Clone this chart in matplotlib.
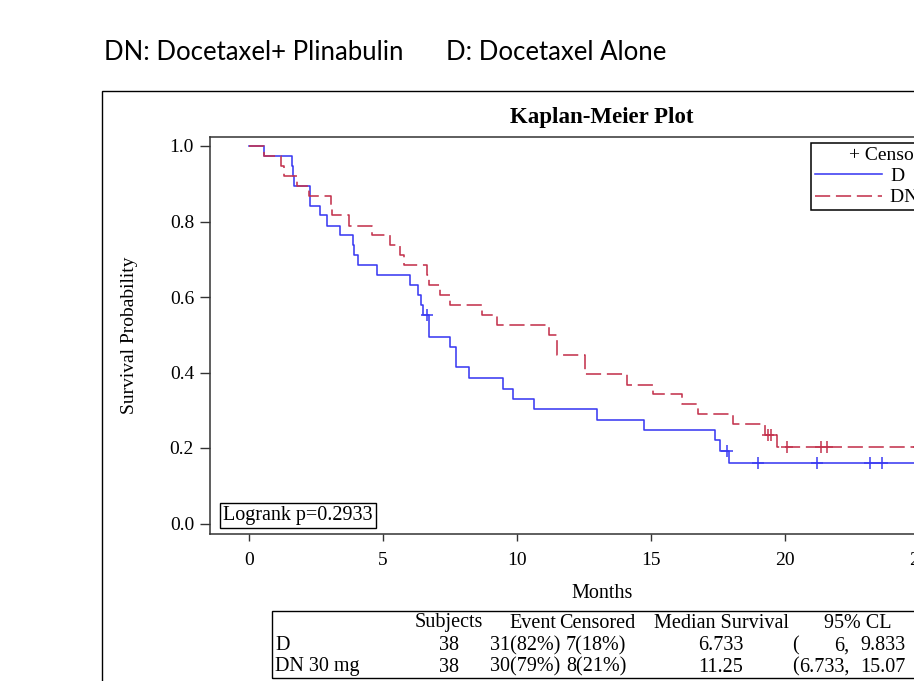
import numpy as np
import matplotlib
matplotlib.use('Agg')
import matplotlib.pyplot as plt
from matplotlib.patches import Rectangle

# readings (months, survival after each drop)
d_event_t = [0.57, 1.59, 1.65, 1.69, 2.26, 2.65, 2.92, 3.40, 3.87, 3.92, 4.05, 4.76,
             6.00, 6.32, 6.41, 6.50, 6.733, 7.50, 7.71, 8.22, 9.49, 9.86, 10.65,
             12.97, 14.75, 17.39, 17.57, 17.92]
d_surv = [0.974, 0.947, 0.921, 0.895, 0.842, 0.816, 0.789, 0.763, 0.737, 0.711, 0.684,
          0.658, 0.632, 0.605, 0.579, 0.553, 0.495, 0.467, 0.414, 0.386, 0.357, 0.330,
          0.302, 0.275, 0.247, 0.220, 0.192, 0.160]
d_cens_t = [6.63, 17.85, 19.0, 21.2, 23.17, 23.63, 26.2]

dn_event_t = [0.57, 1.19, 1.31, 1.78, 2.24, 3.05, 3.10, 3.74, 4.58, 5.26, 5.63, 5.80,
              6.63, 6.70, 7.13, 7.50, 8.68, 9.24, 11.2, 11.48, 12.54, 14.09, 15.09,
              16.17, 16.75, 18.05, 19.25, 19.69]
dn_surv = [0.974, 0.947, 0.921, 0.895, 0.868, 0.842, 0.816, 0.789, 0.763, 0.737, 0.711,
           0.684, 0.658, 0.632, 0.605, 0.579, 0.553, 0.526, 0.500, 0.447, 0.395, 0.368,
           0.342, 0.316, 0.289, 0.263, 0.234, 0.203]
dn_cens_t = [19.38, 19.46, 20.06, 21.33, 21.58, 25.0, 25.9, 26.5]

groups = ['D', 'DN 30 mg']
subjects = [38, 38]
events = ['31(82%)', '30(79%)']
censored = ['7(18%)', '8(21%)']
medians = ['6.733', '11.25']
ci_low = ['6,', '6.733,']
ci_high = ['9.833', '15.07']

x_ticks = [0, 5, 10, 15, 20, 25]
y_ticks = [0.0, 0.2, 0.4, 0.6, 0.8, 1.0]

blue = '#3b3bf2'
red = '#c4334e'
serif = 'Liberation Serif'

W, H = 914, 681
fig = plt.figure(figsize=(W / 100, H / 100), dpi=100)
fig.patch.set_facecolor('white')

def fx(px):
    return px / W

def fy(py):
    return 1 - py / H

ax = fig.add_axes([fx(210), fy(534), fx(994) - fx(210), fy(137) - fy(534)])
ax.set_xlim((210 - 249) / 26.8, (994 - 249) / 26.8)
ax.set_ylim((523.5 - 534) / 377.5, (523.5 - 137) / 377.5)


def km_curve(ev_t, surv, cens_t):
    t = np.concatenate([[0.0], ev_t, [max(cens_t)]])
    s = np.concatenate([[1.0], surv, [surv[-1]]])
    idx = np.searchsorted(t, cens_t, side='right') - 1
    return t, s, s[idx]


t, s, cs = km_curve(d_event_t, d_surv, d_cens_t)
ax.step(t, s, where='post', color=blue, lw=1.15)
ax.plot(d_cens_t, cs, ls='none', marker='+', ms=8, mew=1.1, color=blue)

t, s, cs = km_curve(dn_event_t, dn_surv, dn_cens_t)
ax.step(t, s, where='post', color=red, lw=1.15, dashes=(9.5, 3.6))
ax.plot(dn_cens_t, cs, ls='none', marker='+', ms=8, mew=1.1, color=red)

ax.set_xticks(x_ticks)
ax.set_yticks(y_ticks)
ax.set_yticklabels(['%.1f' % v for v in y_ticks])
for lab in ax.get_xticklabels() + ax.get_yticklabels():
    lab.set_family(serif)
    lab.set_fontsize(14)
ax.tick_params(axis='y', direction='out', length=7.5, width=1, pad=4, colors='#333333', labelcolor='black')
ax.tick_params(axis='x', direction='out', length=5, width=1, pad=8, colors='#333333', labelcolor='black')
for sp in ax.spines.values():
    sp.set_color('#333333')
    sp.set_linewidth(1.1)

ax.set_xlabel('Months', family=serif, fontsize=14.5)
ax.xaxis.set_label_coords(0.5, (534 - 593) / 397)
ax.xaxis.label.set_va('center')
ax.set_ylabel('Survival Probability', family=serif, fontsize=14)
ax.yaxis.set_label_coords((130 - 210) / 784, 0.5)
ax.yaxis.label.set_va('center')
ax.set_title('Kaplan-Meier Plot', family=serif, fontsize=16.5, fontweight='bold',
             y=(534 - 117) / 397, va='center', pad=0)

ax.text((223 - 210) / 784, (534 - 515.5) / 397, 'Logrank p=0.2933', family=serif,
        fontsize=14.5, transform=ax.transAxes, va='center', ha='left',
        bbox=dict(boxstyle='square,pad=0.15', fc='white', ec='black', lw=1))

h1, = ax.plot([], [], color=blue, lw=1.15)
h2, = ax.plot([], [], color=red, lw=1.15, dashes=(9.5, 3.6))
leg = ax.legend([h1, h2], groups, title='+ Censored', loc='upper left',
                bbox_to_anchor=(fx(811), fy(143)), bbox_transform=fig.transFigure,
                borderaxespad=0, fancybox=False, edgecolor='black', framealpha=1,
                prop={'family': serif, 'size': 14}, title_fontproperties={'family': serif, 'size': 14},
                handlelength=3.45, handletextpad=0.45, borderpad=0.18, labelspacing=0.2)
leg.get_frame().set_linewidth(1.1)

# outer frame and header
fig.patches.append(Rectangle((fx(102), -0.1), 2, fy(91) + 0.1, transform=fig.transFigure,
                             fill=False, ec='black', lw=1))
fig.text(fx(104), fy(52), 'DN: Docetaxel+ Plinabulin', family='Lato', fontsize=18.5, va='center')
fig.text(fx(446), fy(52), 'D: Docetaxel Alone', family='Lato', fontsize=18.5, va='center')

# summary table
fig.patches.append(Rectangle((fx(272), fy(678)), 2, fy(611) - fy(678), transform=fig.transFigure,
                             fill=False, ec='black', lw=1))
tk = dict(family=serif, fontsize=14.5, va='center')
fig.text(fx(449), fy(623), 'Subjects', ha='center', **tk)
fig.text(fx(556), fy(623), 'Event', ha='right', **tk)
fig.text(fx(597), fy(623), 'Censored', ha='center', **tk)
fig.text(fx(722), fy(623), 'Median Survival', ha='center', **tk)
fig.text(fx(858), fy(623), '95% CL', ha='center', **tk)
for i, row_y in enumerate([646, 667]):
    fig.text(fx(275), fy(row_y), groups[i], ha='left', **tk)
    fig.text(fx(449), fy(row_y), str(subjects[i]), ha='center', **tk)
    fig.text(fx(560), fy(row_y), events[i], ha='right', **tk)
    fig.text(fx(596), fy(row_y), censored[i], ha='center', **tk)
    fig.text(fx(721), fy(row_y), medians[i], ha='center', **tk)
    fig.text(fx(792), fy(row_y), '(', ha='left', **tk)
    fig.text(fx(849), fy(row_y), ci_low[i], ha='right', **tk)
    fig.text(fx(860), fy(row_y), ci_high[i], ha='left', **tk)

fig.savefig('out.png', dpi=100)
